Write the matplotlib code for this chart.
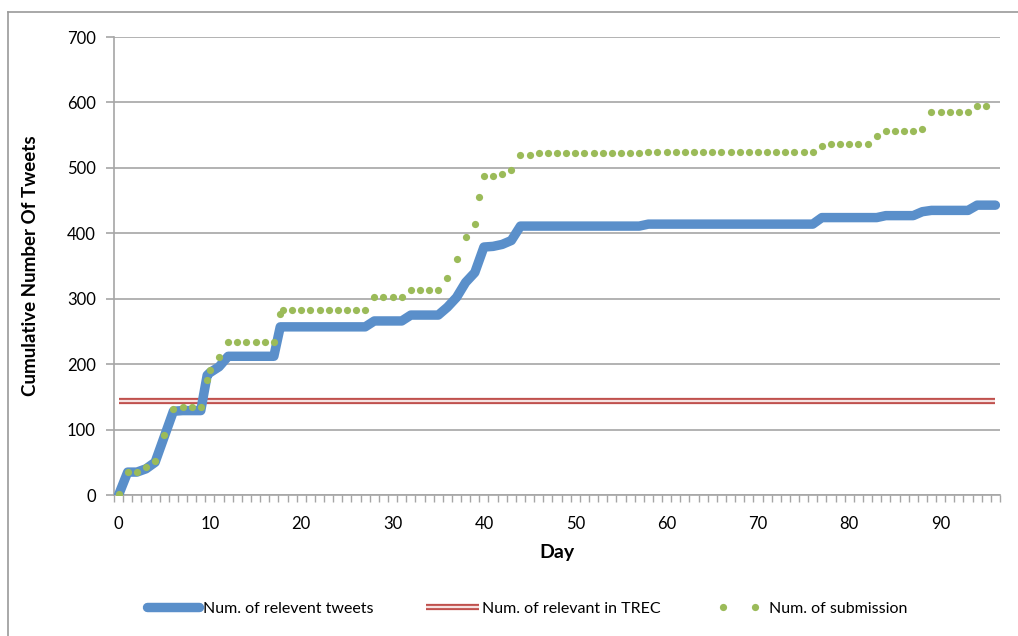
import numpy as np
import matplotlib
matplotlib.use('Agg')
import matplotlib.pyplot as plt
from matplotlib.lines import Line2D
from matplotlib.legend_handler import HandlerLine2D

plt.rcParams['font.family'] = ['Lato', 'DejaVu Sans']

# relevant tweets found, cumulative per day
relevant_days = [0, 1, 2, 3, 4, 5, 6, 7, 8, 9, 9.7, 10, 11,
                 12, 13, 14, 15, 16, 17, 17.7,
                 18, 19, 20, 21, 22, 23, 24, 25, 26, 27,
                 28, 29, 30, 31, 32, 33, 34, 35,
                 36, 37, 38, 39, 40, 41, 42, 43] + list(range(44, 97))
relevant = ([0, 35, 35, 40, 50, 89, 128, 129, 129, 129, 183, 187, 196,
             212, 212, 212, 212, 212, 212, 257,
             257, 257, 257, 257, 257, 257, 257, 257, 257, 257,
             266, 266, 266, 266, 275, 275, 275, 275,
             287, 302, 325, 340, 379, 380, 383, 389]
            + [411] * 14      # 44-57
            + [414] * 19      # 58-76
            + [424] * 7       # 77-83
            + [427] * 4       # 84-87
            + [433]           # 88
            + [435] * 5       # 89-93
            + [443] * 3)      # 94-96

# submissions, cumulative per day
submit_days = [0, 1, 2, 3, 4, 5, 6, 7, 8, 9, 9.67, 10, 11,
               12, 13, 14, 15, 16, 17, 17.7] + list(range(18, 40)) + [39.5] + list(range(40, 96))
submissions = ([1, 35, 35, 43, 52, 92, 132, 134, 134, 134, 176, 191, 211,
                234, 234, 234, 234, 234, 234, 277]
               + [282] * 10                   # 18-27
               + [303] * 4                    # 28-31
               + [314] * 4                    # 32-35
               + [331, 360, 394, 414, 456]    # 36-39.5
               + [487, 487, 491, 496, 519, 519]  # 40-45
               + [522] * 12                   # 46-57
               + [525] * 19                   # 58-76
               + [534]                        # 77
               + [537] * 5                    # 78-82
               + [548]                        # 83
               + [557] * 4                    # 84-87
               + [559]                        # 88
               + [585] * 5                    # 89-93
               + [594] * 2)                   # 94-95

trec_days = [0, 96]
trec_relevant = [143, 143]

BLUE = '#5A8FCA'
RED = '#C0504D'
RED_IN = '#F6E2E1'
GREEN = '#9BBB59'
GRID = '#A6A6A6'

fig = plt.figure(figsize=(10.18, 6.36), dpi=100)
ax = fig.add_axes([114 / 1018, 1 - 495 / 636, 886 / 1018, 458 / 636])

ax.grid(axis='y', color=GRID, linewidth=1.2, zorder=0)
ax.set_axisbelow(True)

ax.plot(relevant_days, relevant, color=BLUE, linewidth=6.8,
        solid_capstyle='round', solid_joinstyle='round', zorder=3)
# double red line: wide red stroke with a pale core
ax.plot(trec_days, trec_relevant, color=RED, linewidth=4.5, solid_capstyle='butt', zorder=2)
ax.plot(trec_days, trec_relevant, color=RED_IN, linewidth=1.6, solid_capstyle='butt', zorder=2)
ax.plot(submit_days, submissions, linestyle='none', marker='o',
        markersize=5.2, color=GREEN, markeredgewidth=0, zorder=4)

ax.set_xlim(-0.5, 96.5)
ax.set_ylim(0, 700)
ax.set_yticks(range(0, 701, 100))
ax.set_xticks(range(0, 91, 10))
ax.set_xticks(np.arange(-0.5, 97, 1), minor=True)

for s in ['top', 'right']:
    ax.spines[s].set_visible(False)
for s in ['left', 'bottom']:
    ax.spines[s].set_color(GRID)
    ax.spines[s].set_linewidth(1.2)

ax.tick_params(axis='y', length=6, width=1.2, color=GRID, pad=7, labelsize=12)
ax.tick_params(axis='x', which='major', length=0, pad=15, labelsize=12)
ax.tick_params(axis='x', which='minor', length=5, width=1.0, color=GRID)

ax.set_xlabel('Day', fontsize=14, fontweight='bold', labelpad=9)
ax.set_ylabel('Cumulative Number Of Tweets', fontsize=13.5, fontweight='bold', labelpad=20)

# legend below the chart
h_blue = Line2D([], [], color=BLUE, linewidth=6.8, solid_capstyle='round')
h_red = (Line2D([], [], color=RED, linewidth=4.5, solid_capstyle='butt'),
         Line2D([], [], color=RED_IN, linewidth=1.6, solid_capstyle='butt'))
h_green = Line2D([], [], linestyle='none', marker='o', markersize=5.2,
                 color=GREEN, markeredgewidth=0)
fig.legend([h_blue, h_red, h_green],
           ['Num. of relevent tweets', 'Num. of relevant in TREC', 'Num. of submission'],
           loc='center', bbox_to_anchor=(527 / 1018, 1 - 609 / 636), ncol=3,
           frameon=False, fontsize=11.5, handlelength=3.3, columnspacing=3.3,
           handletextpad=0.2,
           handler_map={h_green: HandlerLine2D(numpoints=2, marker_pad=0.65)})

# outer chart frame
frame_kw = dict(color='#9A9A9A', linewidth=1.2, transform=fig.transFigure)
fig.add_artist(Line2D([8 / 1018, 8 / 1018], [0, 1 - 12 / 636], **frame_kw))
fig.add_artist(Line2D([8 / 1018, 1], [1 - 12 / 636, 1 - 12 / 636], **frame_kw))

fig.savefig('out.png', dpi=100)
